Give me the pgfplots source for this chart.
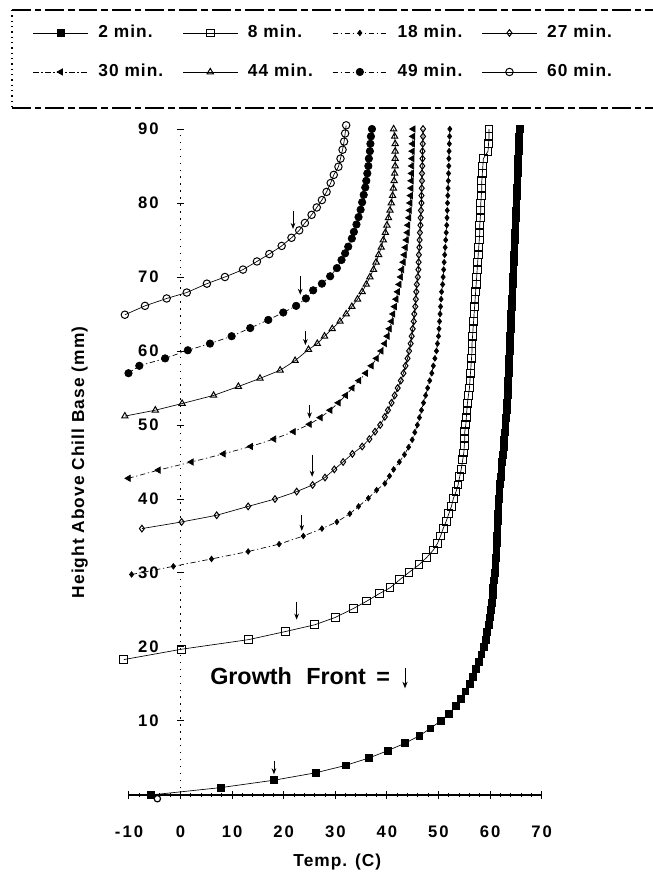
\documentclass[border=0pt]{standalone}
\usepackage{fontspec}
\setmainfont{Liberation Sans}
\newfontfamily\tickfont{Liberation Sans}[LetterSpace=12]
\newfontfamily\labfont{Liberation Sans}[LetterSpace=6]
\usepackage{pgfplots}
\pgfplotsset{compat=1.18}
\usetikzlibrary{arrows.meta}
\begin{document}
\begin{tikzpicture}
\path[use as bounding box] (0,0) rectangle (489.75pt,656.25pt);
\begin{axis}[
  at={(96.75pt,60pt)}, anchor=south west,
  scale only axis, width=309.5pt, height=499.5pt,
  xmin=-10, xmax=70, ymin=0, ymax=90,
  axis x line=bottom, axis y line=middle,
  hide obscured x ticks=false,
  clip=false,
  x axis line style={-, line width=1pt},
  y axis line style={-, line width=1.2pt, dash pattern=on 1.1pt off 4.1pt},
  xtick={-10,0,10,20,30,40,50,60,70},
  xticklabels={-10,0,10,20,30,40,50,60,70},
  ytick={10,20,30,40,50,60,70,80,90},
  yticklabels={10,20,30,40,50,60,70,80,90},
  minor x tick num=4,
  tick align=center,
  major tick length=5.5pt, minor tick length=2.5pt,
  tick style={black, line width=0.75pt},
  xticklabel style={font=\tickfont\bfseries\fontsize{12.5}{14}\selectfont, anchor=base, yshift=-29.25pt, inner sep=0pt},
  yticklabel style={font=\tickfont\bfseries\fontsize{12.5}{14}\selectfont, anchor=east, inner sep=0pt, xshift=-13.5pt},
  legend columns=4,
  legend cell align=left,
  legend image code/.code={\draw[mark repeat=2,mark phase=2] plot coordinates {(0pt,0pt) (20.5pt,0pt) (41pt,0pt)};},
  legend style={at={(-0.2326,1.1572)}, anchor=north west, draw=none, fill=none,
    inner sep=0pt, outer sep=0pt,
    font=\labfont\bfseries\fontsize{13}{15}\selectfont,
    row sep=16.25pt,
    nodes={inner sep=0pt, text height=10pt, text depth=3pt},
    /tikz/every odd column/.append style={column sep=7.5pt},
    /tikz/every even column/.append style={column sep=14.5pt}},
]
% 2 min
\addplot[black, line width=0.5pt, mark=square*, mark size=2.55pt, mark options={solid}] table {
x y
-5.8 0
7.8 1
18.1 2
26.2 3
32.0 4
36.5 5
40.2 6
43.5 7
46.3 8
48.4 9
50.4 10
52.0 11
53.3 12
54.3 13
55.2 14
56.0 15
56.6 16
57.3 17
57.8 18
58.3 19
58.8 20
59.1 21
59.4 22
59.7 23
59.9 24
60.1 25
60.3 26
60.5 27
60.6 28
60.8 29
60.9 30
61.0 31
61.1 32
61.2 33
61.3 34
61.35 35
61.4 36
61.5 37
61.55 38
61.6 39
61.7 40
61.8 41
61.9 42
62.05 43
62.2 44
62.3 45
62.45 46
62.6 47
62.7 48
62.85 49
62.95 50
63.05 51
63.2 52
63.3 53
63.4 54
63.45 55
63.5 56
63.6 57
63.65 58
63.7 59
63.8 60
63.85 61
63.9 62
64.0 63
64.05 64
64.1 65
64.2 66
64.25 67
64.3 68
64.4 69
64.45 70
64.5 71
64.6 72
64.65 73
64.7 74
64.8 75
64.85 76
64.9 77
65.0 78
65.05 79
65.1 80
65.15 81
65.2 82
65.3 83
65.35 84
65.4 85
65.45 86
65.5 87
65.6 88
65.65 89
65.7 90
};
\addlegendentry{2 min.}
% 8 min
\addplot[black, line width=0.5pt, mark=square, mark size=2.9pt, mark options={solid, line width=0.75pt}] table {
x y
-11 18.3
0.2 19.7
13.2 21
20.4 22.1
26 23
30 24
33.5 25.2
36.1 26.2
38.5 27.2
40.6 28
42.5 29.1
44.3 30.1
46.2 31.1
47.7 32.1
49 33.1
49.8 34
50.4 35
50.9 36
51.5 37
52 38
52.5 39
52.9 40.1
53.4 41
53.8 41.9
54.1 43
54.4 44
54.7 45.3
54.9 46.2
55 47.2
55.1 48.2
55.1 49.1
55.3 50.1
55.4 51
55.5 52
55.6 52.9
55.8 54
56 55
56.1 56
56.2 57
56.3 58
56.4 59
56.5 60
56.5 61
56.6 62
56.7 63
56.8 64
56.9 65
57 66
57.1 67
57.2 68
57.3 69
57.4 70
57.5 71
57.6 72
57.7 73
57.8 74
57.9 75
58 76
58 77
58.1 78
58.2 79
58.2 80
58.3 81
58.4 82
58.4 83
58.5 84
58.6 85
58.7 86
59.6 87
59.7 88
59.8 89
59.8 90
};
\addlegendentry{8 min.}
% 18 min
\addplot[black, line width=0.5pt, dash pattern=on 4pt off 2pt on 1pt off 2pt, mark=diamond*, mark size=2.1pt, mark options={solid}] table {
x y
-9.5 29.8
-1.4 30.9
6 31.9
13.1 32.9
19.1 33.9
23.8 35
27.4 36
30.3 36.9
32.8 38
34.5 39
36.4 40.1
38 41.2
39.6 42.1
40.5 43.1
41.3 44
42.4 45
43.4 46
44.2 47
44.9 48
45.4 49
45.9 50
46.3 51
46.7 52
47.1 53
47.5 54
47.9 55
48.3 56
48.7 57
49 58
49.3 59
49.6 60
49.8 61
50 62
50.1 63
50.2 64
50.3 65
50.4 66
50.5 67
50.6 68
50.8 69
50.9 70
51 71
51.1 72
51.2 73
51.3 74
51.4 75
51.5 76
51.6 77
51.65 78
51.7 79
51.75 80
51.8 81
51.85 82
51.9 83
51.95 84
52 85
52 86
52.05 87
52.1 88
52.15 89
52.2 90
};
\addlegendentry{18 min.}
% 27 min
\addplot[black, line width=0.5pt, mark=diamond, mark size=2.5pt, mark options={solid, line width=0.75pt}] table {
x y
-7.5 36
0.2 36.9
7 37.8
13.1 39
18.3 40
22.5 41
25.6 41.9
28 42.9
29.8 44
31.5 45
33.3 46.1
35.2 47.1
36.6 48.1
37.7 49.1
38.7 50
39.6 51.1
40.2 52
40.9 53
41.5 54
42.1 55
42.7 56
43.2 57
43.6 58
44 59
44.3 60
44.6 61
44.8 62
45 63
45.2 64
45.3 65
45.5 66
45.6 67
45.7 68
45.8 69
46 70
46.1 71
46.15 72
46.2 73
46.3 74
46.35 75
46.4 76
46.5 77
46.55 78
46.6 79
46.7 80
46.7 81
46.75 82
46.8 83
46.8 84
46.85 85
46.9 86
46.9 87
46.95 88
47 89
47 90
};
\addlegendentry{27 min.}
% 30 min
\addplot[black, line width=0.5pt, dash pattern=on 4pt off 2pt on 1pt off 2pt, mark=triangle*, mark size=2.7pt, mark options={solid, rotate=90}] table {
x y
-10.1 42.8
-4.3 43.9
2.1 45
8.3 46.1
13.6 47.1
18.1 48.1
21.9 49.1
25 50.1
27.1 51
29 52
30.6 53
32 54
33.3 55
34.6 56
35.9 57
37 58
38 59
38.9 60
39.6 61
40.1 62
40.5 63
40.9 64
41.2 65
41.5 66
41.8 67
42.1 68
42.4 69
42.7 70
42.9 71
43.2 72
43.4 73
43.6 74
43.8 75
44 76
44.1 77
44.3 78
44.4 79
44.5 80
44.6 81
44.7 82
44.75 83
44.8 84
44.85 85
44.9 86
44.95 87
45 88
45.05 89
45.1 90
};
\addlegendentry{30 min.}
% 44 min
\addplot[black, line width=0.5pt, mark=triangle, mark size=2.7pt, mark options={solid, line width=0.75pt}] table {
x y
-10.8 51.2
-4.9 52
0.3 52.9
6.4 54
11.2 55.2
15.4 56.3
19.3 57.4
22.2 58.7
24.8 60.2
26.5 61
27.9 62
29.4 63
30.9 64
32.1 65
33.2 66
34.3 67
35.2 68
36 69
36.7 70
37.4 71
37.9 72
38.4 73
38.9 74
39.3 75
39.7 76
40 77
40.3 78
40.6 79
40.85 80
41.1 81
41.25 82
41.4 83
41.5 84
41.6 85
41.6 86
41.6 87
41.6 88
41.5 89
41.3 90
};
\addlegendentry{44 min.}
% 49 min
\addplot[black, line width=0.5pt, dash pattern=on 4pt off 2pt on 1pt off 2pt, mark=*, mark size=2.8pt, mark options={solid}] table {
x y
-10.1 57
-8 58
-3 59
1.4 60.1
5.7 61
9.9 62
13.5 63.1
17 64.2
19.9 65.2
22.4 66.1
24.3 67.1
25.7 68.2
27.4 69.1
29 70.1
30.3 71.2
31.2 72.3
31.9 73.2
32.5 74.1
33.2 75.2
33.6 76.1
34.1 77.1
34.5 78.1
34.9 79.1
35.2 80.1
35.5 81.1
35.8 82.1
36 83
36.2 84
36.4 85
36.5 86
36.7 87
36.8 88
36.9 89
37.1 90
};
\addlegendentry{49 min.}
% 60 min
\addplot[black, line width=0.5pt, mark=o, mark size=2.8pt, mark options={solid, line width=0.75pt}] table {
x y
-10.8 64.9
-6.9 66.1
-2.7 67.1
1.2 67.9
5.1 69.1
8.6 70
12.1 71
14.8 72.1
17.2 73.1
19.6 74.2
21.5 75.3
23 76.3
24.1 77.3
25.4 78.4
26.4 79.4
27.4 80.4
28.3 81.5
29.1 82.7
29.7 83.8
30.6 84.9
31 86
31.4 87.2
31.7 88.3
31.9 89.4
32.1 90.5
};
\addlegendentry{60 min.}
% stray open circle near origin
\addplot[black, only marks, mark=o, mark size=2.4pt, mark options={line width=0.9pt}, forget plot] coordinates {(-4.5,-0.5)};
% growth front arrows
\addplot[black, line width=0.6pt, quiver={u=0, v=\thisrow{v}}, -{Stealth[length=4.5pt, width=3.5pt]}, forget plot] table {
x y v
18.1 4.6 -1.8
22.5 26.1 -2.4
23.5 37.9 -2.2
25.5 46.0 -3.0
25.0 52.7 -1.8
24.2 62.7 -1.9
23.2 70.1 -2.5
21.8 78.9 -2.4
};
\end{axis}
% legend frame
\draw[line width=0.9pt, dash pattern=on 14pt off 3pt on 5pt off 3pt] (9pt,648.75pt) -- (489.75pt,648.75pt);
\draw[line width=0.9pt, dash pattern=on 14pt off 3pt on 5pt off 3pt] (9pt,575.25pt) -- (489.75pt,575.25pt);
\draw[line width=0.8pt, dash pattern=on 1pt off 3pt] (9pt,648.75pt) -- (9pt,575.25pt);
% axis labels
\node[rotate=90, anchor=base, font=\labfont\bfseries\fontsize{13}{15}\selectfont] at (63pt,309.4pt) {Height Above Chill Base (mm)};
\node[anchor=base, font=\labfont\bfseries\fontsize{13}{15}\selectfont] at (253pt,6pt) {Temp. (C)};
% growth front note
\node[anchor=base west, inner sep=0pt, font=\bfseries\fontsize{17.5}{20}\selectfont] at (157.5pt,142.5pt) {Growth\hspace{6pt} Front\hspace{3pt} =};
\draw[line width=0.7pt, -{Stealth[length=5pt, width=4pt]}] (303.75pt,155pt) -- (303.75pt,140pt);
\end{tikzpicture}
\end{document}
